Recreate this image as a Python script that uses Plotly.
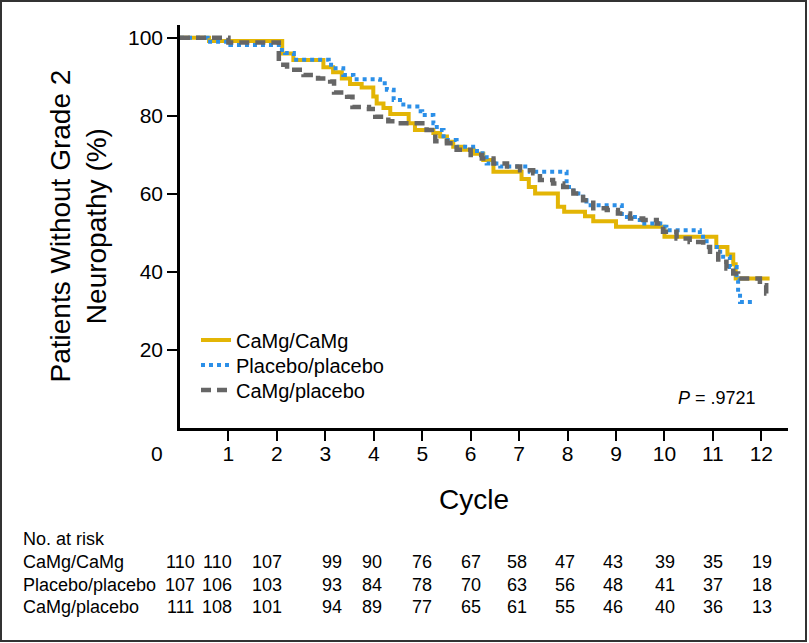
import plotly.graph_objects as go

# Kaplan-Meier step curves (cycle, % without grade 2 neuropathy)
camgX = [0, 0.6, 2.11, 2.34, 2.96, 3.16, 3.34, 3.51, 3.75, 3.99, 4.06, 4.2, 4.34, 4.72, 4.85,
         5.23, 5.37, 5.51, 5.64, 5.85, 6.06, 6.26, 6.47, 7.05, 7.2, 7.33, 7.8, 7.93, 8.36,
         8.53, 9.0, 10.0, 11.07, 11.3, 11.42, 11.47, 12.17]
camgY = [100, 99.2, 96, 94.3, 92.5, 91.2, 89.6, 88.2, 87.3, 85, 83.2, 82, 80.5, 78.1, 76.4,
         75.6, 74.7, 73.4, 72.1, 71.3, 70.3, 68.7, 65.7, 63.8, 61.8, 60.1, 56.7, 55.4, 54.3,
         53, 51.6, 49, 46.4, 44.5, 42, 38.3, 38.3]

placeboX = [0, 0.57, 1.04, 2.04, 2.17, 2.35, 3.07, 3.17, 3.37, 3.58, 4.13, 4.27, 4.41, 4.61,
            4.9, 5.0, 5.23, 5.3, 5.44, 5.71, 6.13, 6.33, 6.61, 7.22, 7.98, 8.12, 8.32, 8.39,
            9.12, 9.49, 9.97, 10.04, 10.73, 10.87, 11.15, 11.35, 11.49, 11.52, 11.56, 11.86]
placeboY = [100, 99, 98.2, 96.9, 96.1, 94.4, 93.1, 92.2, 90.5, 89.4, 88.4, 86.7, 84.1, 82.4,
            81.2, 80.2, 78.1, 76.4, 73.8, 72.1, 70.4, 67.8, 67, 65.7, 61.8, 60.1, 58.4, 57.1,
            54.1, 52.4, 51.6, 50.7, 49, 46.4, 43.9, 41.3, 37.9, 34.5, 32.3, 32.3]

mixedX = [0, 1.0, 2.04, 2.21, 2.55, 2.85, 3.1, 3.18, 3.45, 3.56, 3.9, 4.03, 4.3, 4.5, 5.09,
          5.2, 5.27, 5.51, 5.71, 6.0, 6.23, 6.47, 6.75, 7.02, 7.29, 7.43, 7.7, 7.91, 8.12,
          8.32, 8.53, 8.81, 9.04, 9.29, 9.56, 9.84, 9.97, 10.25, 10.52, 10.8, 10.94, 11.11,
          11.28, 11.42, 11.52, 11.97, 12.1, 12.15]
mixedY = [100, 98.8, 93.1, 91.8, 90.5, 89.6, 88.8, 86, 84.9, 82.3, 81.8, 79.8, 78.6, 78.1, 76.4,
          75.5, 73.5, 73, 71.3, 70, 69.1, 67.8, 67, 66.1, 65.3, 63.6, 62.7, 61.8, 60.1,
          58.4, 56.3, 55.9, 55, 53.7, 53.3, 52.4, 50.3, 48.6, 47.7, 46.4, 45.2, 42.6,
          40.9, 39.6, 38.3, 36.6, 34.5, 34.5]

# number-at-risk table
riskCycles = list(range(13))
riskGroups = ['CaMg/CaMg', 'Placebo/placebo', 'CaMg/placebo']
riskCounts = [
    [110, 110, 107, 99, 90, 76, 67, 58, 47, 43, 39, 35, 19],
    [107, 106, 103, 93, 84, 78, 70, 63, 56, 48, 41, 37, 18],
    [111, 108, 101, 94, 89, 77, 65, 61, 55, 46, 40, 36, 13],
]
colShift = [0, -11, -10, 7, -2, 0, 0, -2, -3, -3, 1, 0, 1]

xTicks = list(range(1, 13))
yTicks = [20, 40, 60, 80, 100]

FONT = 'Liberation Sans, Arial, sans-serif'
YELLOW = '#E3B505'
BLUE = '#2B8FE8'
GREY = '#666666'

W, H = 809, 643
L, R, T, B = 180, 21, 25, 215
plotW, plotH = W - L - R, H - T - B


def px2paperX(px):
    return (px - L) / plotW


def px2paperY(py):
    return (H - B - py) / plotH


def addText(text, px, py, size, xanchor='center', **kw):
    fig.add_annotation(text=text, xref='paper', yref='paper', x=px2paperX(px), y=px2paperY(py),
                       xanchor=xanchor, yanchor='middle', showarrow=False,
                       font=dict(size=size), **kw)


fig = go.Figure()
# one legend per curve so the rows can sit as tightly as in the original
fig.add_trace(go.Scatter(x=camgX, y=camgY, name='CaMg/CaMg', mode='lines', legend='legend',
                         line=dict(shape='hv', color=YELLOW, width=4)))
fig.add_trace(go.Scatter(x=placeboX, y=placeboY, name='Placebo/placebo', mode='lines',
                         legend='legend2',
                         line=dict(shape='hv', color=BLUE, width=4, dash='4px,4px')))
fig.add_trace(go.Scatter(x=mixedX, y=mixedY, name='CaMg/placebo', mode='lines',
                         legend='legend3',
                         line=dict(shape='hv', color=GREY, width=4.5, dash='10px,6px')))

legendRows = [340, 365, 390]
legendStyle = [dict(x=px2paperX(196), y=px2paperY(py), xanchor='left', yanchor='middle',
                    font=dict(size=20), bgcolor='rgba(0,0,0,0)') for py in legendRows]

fig.update_layout(
    width=W, height=H,
    margin=dict(l=L, r=R, t=T, b=B, autoexpand=False),
    paper_bgcolor='white', plot_bgcolor='white',
    font=dict(family=FONT, color='black', size=20),
    showlegend=True,
    legend=legendStyle[0], legend2=legendStyle[1], legend3=legendStyle[2],
)
fig.update_xaxes(range=[0, 12.55], tickvals=xTicks, ticks='outside', ticklen=10, tickwidth=2,
                 tickcolor='black', showline=True, linewidth=2.5, linecolor='black',
                 showgrid=False, zeroline=False, tickfont=dict(size=21), ticklabelstandoff=-5)
fig.update_yaxes(range=[0, 103.3], tickvals=yTicks, ticks='outside', ticklen=10, tickwidth=2,
                 tickcolor='black', showline=True, linewidth=2.5, linecolor='black',
                 showgrid=False, zeroline=False, tickfont=dict(size=21))

# origin label sits left of the axis corner
addText('0', 157, 453, 21)
addText('Patients Without Grade 2<br>Neuropathy (%)', 78, (T + H - B) / 2, 28, textangle=-90)
addText('Cycle', 474, 499, 28)
addText('<i>P</i> = .9721', 758, 398, 18, xanchor='right')

addText('No. at risk', 21, 539, 18, xanchor='left')
rowY = [562, 585, 607]
for group, counts, py in zip(riskGroups, riskCounts, rowY):
    addText(group, 21, py, 18, xanchor='left')
    for cyc, n, dx in zip(riskCycles, counts, colShift):
        fig.add_annotation(text=str(n), xref='x', yref='paper', x=cyc, xshift=dx,
                           y=px2paperY(py), xanchor='center', yanchor='middle',
                           showarrow=False, font=dict(size=18))

# outer frame round the whole figure
fig.add_shape(type='rect', xref='paper', yref='paper',
              x0=px2paperX(1), x1=px2paperX(806), y0=px2paperY(641), y1=px2paperY(1),
              line=dict(color='#333333', width=2))

# drop the browser's default body margin so the figure fills the window exactly
fig.write_html('out.html', config={'displayModeBar': False},
               post_script="document.body.style.margin='0px';")
